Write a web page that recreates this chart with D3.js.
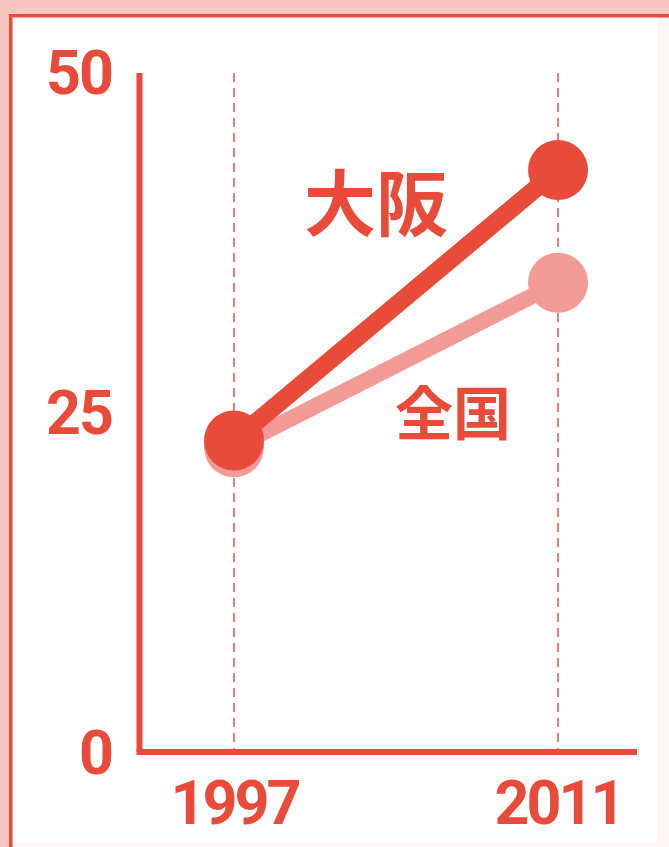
<!DOCTYPE html>
<html>
<head>
<meta charset="utf-8">
<script src="https://cdn.jsdelivr.net/npm/d3@7"></script>
<style>
  body { margin: 0; background: #f8c6be; }
  svg { display: block; }
</style>
</head>
<body>
<div id="chart"></div>
<script>
// --- data ---
const years = [1997, 2011];
const osaka = [22.9, 42.8];      // 大阪
const national = [22.4, 34.5];   // 全国
const yTicks = [0, 25, 50];

const W = 669, H = 847;
const RED = "#e94b3b", PINK = "#f29a95";
const NUM_FONT = "Roboto, 'Open Sans', sans-serif";

const svg = d3.select("#chart").append("svg")
  .attr("width", W)
  .attr("height", H);

// frame
svg.append("rect").attr("width", W).attr("height", H).attr("fill", "#f8c6be");
svg.append("rect").attr("x", 12).attr("y", 17).attr("width", W - 12).attr("height", H - 17).attr("fill", "#fef6f5");
svg.append("rect").attr("x", 12).attr("y", 17).attr("width", 645).attr("height", 825).attr("fill", "#fff");
svg.append("rect").attr("x", 9).attr("y", 14).attr("width", W - 9).attr("height", 3.5).attr("fill", RED);
svg.append("rect").attr("x", 9).attr("y", 14).attr("width", 3.5).attr("height", H - 14).attr("fill", RED);

// scales
const x = d3.scaleLinear().domain(years).range([234, 558]);
const y = d3.scaleLinear().domain([0, 50]).range([752, 72]);

// dashed guides
svg.selectAll(".guide")
  .data(years)
  .enter().append("line")
  .attr("class", "guide")
  .attr("x1", d => x(d)).attr("x2", d => x(d))
  .attr("y1", 73).attr("y2", y(0))
  .attr("stroke", RED)
  .attr("stroke-width", 1.4)
  .attr("stroke-dasharray", "9,6");

// axes lines
svg.append("line")
  .attr("x1", 139.5).attr("x2", 139.5)
  .attr("y1", 73).attr("y2", y(0))
  .attr("stroke", RED).attr("stroke-width", 6);
svg.append("line")
  .attr("x1", 136.5).attr("x2", 637)
  .attr("y1", y(0)).attr("y2", y(0))
  .attr("stroke", RED).attr("stroke-width", 6);

// y tick labels
const yAxis = svg.append("g")
  .attr("transform", "translate(112,0)")
  .call(d3.axisLeft(y).tickValues(yTicks).tickSize(0).tickPadding(0));
yAxis.select(".domain").remove();
yAxis.selectAll("text")
  .attr("fill", RED)
  .attr("dy", "0.36em")
  .style("font-family", NUM_FONT)
  .style("font-weight", "700")
  .style("font-size", "61px")
  .style("letter-spacing", "-2px");

// x tick labels
const xAxis = svg.append("g")
  .attr("transform", "translate(0,780)")
  .call(d3.axisBottom(x).tickValues(years).tickFormat(d3.format("d")).tickSize(0).tickPadding(0));
xAxis.select(".domain").remove();
xAxis.selectAll("text")
  .attr("fill", RED)
  .attr("dy", "0.72em")
  .style("font-family", NUM_FONT)
  .style("font-weight", "700")
  .style("font-size", "61px")
  .style("letter-spacing", "-3px");

// series
const line = d3.line().x((d, i) => x(years[i])).y(d => y(d));

function drawSeries(values, color, width) {
  svg.append("path")
    .datum(values)
    .attr("d", line)
    .attr("fill", "none")
    .attr("stroke", color)
    .attr("stroke-width", width);
  svg.selectAll(null)
    .data(values)
    .enter().append("circle")
    .attr("cx", (d, i) => x(years[i]))
    .attr("cy", d => y(d))
    .attr("r", 30)
    .attr("fill", color);
}
drawSeries(national, PINK, 16);
drawSeries(osaka, RED, 18);

// labels
svg.append("text")
  .attr("x", 376).attr("y", 204)
  .attr("dy", "0.36em")
  .attr("text-anchor", "middle")
  .attr("fill", RED)
  .style("font-family", "'Noto Sans CJK JP', sans-serif")
  .style("font-weight", "700")
  .style("font-size", "72px")
  .text("大阪");

svg.append("text")
  .attr("x", 453).attr("y", 414)
  .attr("dy", "0.36em")
  .attr("text-anchor", "middle")
  .attr("fill", RED)
  .style("font-family", "'Noto Sans CJK JP', sans-serif")
  .style("font-weight", "700")
  .style("font-size", "58px")
  .text("全国");
</script>
</body>
</html>
